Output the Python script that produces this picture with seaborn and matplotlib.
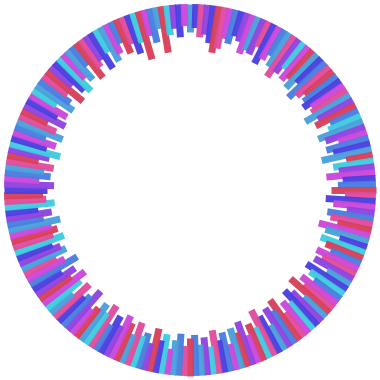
import numpy as np
import matplotlib
matplotlib.use("Agg")
import matplotlib.pyplot as plt
import seaborn as sns

# bar lengths (inward from the outer ring), clockwise from 12 o'clock
lengths_q1 = [28, 24, 33, 30, 38, 47, 42, 31, 35, 26,
              30, 41, 36, 38, 28, 44, 37, 30, 40, 49,
              41, 33, 43, 38, 46, 35, 51, 44, 37, 42,
              46, 39, 42, 52, 40, 45, 31, 35, 48, 42,
              30, 44, 38, 51, 27, 41, 36, 49, 33, 38]
lengths_q2 = [45, 31, 50, 42, 28, 47, 43, 35, 53, 45,
              29, 47, 40, 33, 46, 38, 44, 27, 48, 41,
              33, 45, 38, 52, 30, 42, 48, 36, 41, 31,
              50, 40, 46, 29, 42, 51, 34, 40, 30, 46,
              36, 42, 27, 40, 33, 44, 28, 38, 31, 41]
lengths_q3 = [38, 30, 42, 35, 26, 40, 33, 44, 28, 37,
              33, 45, 31, 41, 47, 34, 42, 30, 49, 38,
              45, 37, 32, 51, 41, 36, 48, 30, 44, 53,
              39, 47, 34, 55, 43, 36, 49, 45, 38, 52,
              42, 48, 43, 53, 37, 46, 33, 50, 42, 39]
lengths_q4 = [43, 50, 35, 46, 39, 48, 32, 42, 52, 37,
              45, 33, 49, 40, 29, 46, 35, 43, 28, 45,
              38, 31, 47, 29, 41, 46, 33, 39, 25, 44,
              34, 29, 42, 26, 39, 33, 24, 37, 29, 41,
              31, 50, 27, 35, 22, 47, 30, 24, 33, 22]

# colour category of each bar
colors_q1 = "s i p v i r p m b i v m s v p i m b s p v c m r s i b p r b i m p s v r b c s v m b i s r c v m i b".split()
colors_q2 = "r p i m v b p r m s i c r b m p v s i c b m p r s v i c m p r b v s i p c r m v r s m b i p c v s b".split()
colors_q3 = "r p b s m c i r v b c p s r m v i b p c s r m v b i p s c m r v i b m p s v i c p r m s b v i c p r".split()
colors_q4 = "i v m b s p r v c i m b s p r v i m c s b p r v i c m s b r p v i c s m b r p i c r m b s r c v i m".split()

palette_hex = {
    "r": "#d8405a", "p": "#e04c9c", "m": "#cc48dc", "v": "#9044e0",
    "i": "#4c40e0", "b": "#4a7ee0", "s": "#4aa0dc", "c": "#40cce0",
}

lengths = lengths_q1 + lengths_q2 + lengths_q3 + lengths_q4
cats = colors_q1 + colors_q2 + colors_q3 + colors_q4
n = len(lengths)
cats = (cats * 2)[:n]

sns.set_theme(style="white")
pal = dict(zip(palette_hex.keys(), sns.color_palette(list(palette_hex.values()))))

fig = plt.figure(figsize=(3.8, 3.8), dpi=100)
ax = fig.add_axes([0, 0, 1, 1], projection="polar")
ax.set_theta_zero_location("N")
ax.set_theta_direction(-1)

outer = 186
theta = np.arange(n) * 2 * np.pi / n
L = np.array(lengths, dtype=float)
lc = ax.vlines(theta, outer - L, outer, colors=[pal[c] for c in cats],
               linewidth=5.0, alpha=0.97)
lc.set_capstyle("butt")

ax.set_ylim(0, 190)
ax.set_axis_off()
fig.savefig("out.png", dpi=100, facecolor="white")
